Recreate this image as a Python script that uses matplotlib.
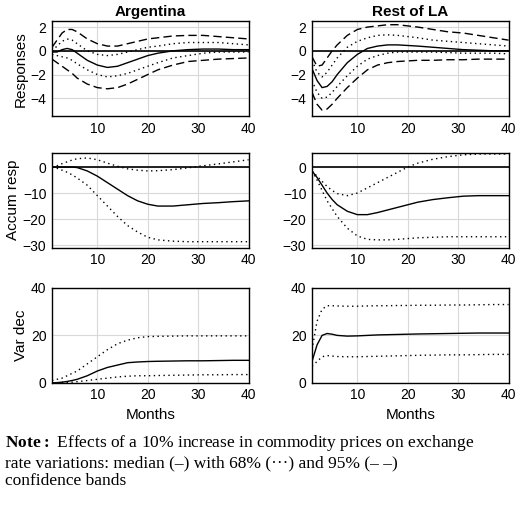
import numpy as np
import matplotlib.pyplot as plt

months = [1, 2, 3, 4, 5, 6, 8, 10, 12, 14, 16, 18, 20, 22, 25, 28, 31, 34, 37, 40]

# impulse responses
arg_med = [-0.1, -0.1, 0.1, 0.2, 0.1, -0.2, -0.8, -1.2, -1.4, -1.3, -1.0, -0.7, -0.4, -0.2, 0.0, 0.1, 0.15, 0.15, 0.1, 0.1]
arg_u68 = [0.0, 0.4, 0.8, 1.0, 0.9, 0.6, 0.0, -0.3, -0.4, -0.3, -0.1, 0.1, 0.3, 0.4, 0.6, 0.7, 0.7, 0.7, 0.6, 0.5]
arg_l68 = [-0.3, -0.4, -0.5, -0.6, -0.8, -1.1, -1.6, -2.0, -2.2, -2.1, -1.9, -1.6, -1.3, -1.0, -0.6, -0.4, -0.2, -0.1, -0.1, -0.1]
arg_u95 = [0.3, 0.9, 1.5, 1.8, 1.8, 1.6, 1.0, 0.6, 0.4, 0.4, 0.6, 0.8, 1.0, 1.1, 1.25, 1.3, 1.3, 1.2, 1.1, 1.0]
arg_l95 = [-0.7, -1.0, -1.3, -1.6, -1.9, -2.3, -2.8, -3.1, -3.2, -3.1, -2.8, -2.4, -2.0, -1.6, -1.2, -0.9, -0.8, -0.7, -0.65, -0.6]

rla_med = [-1.5, -2.5, -3.1, -3.0, -2.6, -2.0, -1.0, -0.3, 0.2, 0.4, 0.5, 0.5, 0.45, 0.4, 0.3, 0.2, 0.1, 0.05, 0.0, 0.0]
rla_u68 = [-0.8, -1.8, -2.2, -1.8, -1.2, -0.6, 0.3, 0.8, 1.1, 1.3, 1.35, 1.3, 1.2, 1.1, 0.9, 0.8, 0.7, 0.6, 0.5, 0.4]
rla_l68 = [-2.5, -3.5, -4.0, -3.9, -3.5, -3.0, -2.1, -1.3, -0.7, -0.4, -0.2, -0.1, -0.1, -0.1, -0.1, -0.15, -0.2, -0.2, -0.2, -0.25]
rla_u95 = [-0.5, -1.3, -1.2, -0.6, 0.0, 0.5, 1.3, 1.8, 2.0, 2.1, 2.2, 2.2, 2.1, 2.0, 1.8, 1.6, 1.5, 1.3, 1.1, 0.9]
rla_l95 = [-3.5, -4.5, -5.0, -4.9, -4.5, -4.0, -3.1, -2.3, -1.6, -1.2, -1.0, -0.9, -0.85, -0.8, -0.8, -0.75, -0.75, -0.7, -0.7, -0.7]

# accumulated responses
arg_acc = [0, 0, 0, 0, 0, -0.2, -1.5, -3.5, -6, -8.5, -11, -13, -14.3, -15, -15, -14.5, -14, -13.7, -13.3, -13]
arg_acc_u = [0, 0.5, 1.3, 2, 2.7, 3.2, 3.5, 2.8, 1.5, 0.3, -0.7, -1.2, -1.5, -1.4, -1.0, -0.3, 0.5, 1.2, 2.0, 2.8]
arg_acc_l = [0, -0.5, -1.2, -2, -3, -4.2, -7, -11, -15, -19, -22.5, -25, -27, -28, -28.5, -28.7, -28.7, -28.7, -28.7, -28.7]
rla_acc = [-1.5, -4, -7, -10, -12.5, -14.5, -17, -18.3, -18.3, -17.5, -16.5, -15.5, -14.5, -13.5, -12.5, -11.8, -11.2, -11, -11, -11]
rla_acc_u = [-1.5, -3.5, -5.5, -7.5, -9, -10.2, -11, -10, -8, -6, -4, -2, 0, 1.5, 3, 4, 4.7, 5, 5, 5]
rla_acc_l = [-1.5, -5, -9, -13, -16, -19, -23.5, -26.5, -27.8, -28, -28, -27.8, -27.5, -27.2, -27, -26.8, -26.8, -26.8, -26.8, -26.8]

# variance decomposition
arg_vd = [0, 0.1, 0.3, 0.6, 1, 1.5, 3, 5, 6.5, 7.5, 8.5, 8.8, 9, 9.1, 9.2, 9.3, 9.3, 9.4, 9.5, 9.5]
arg_vd_u = [1, 1.5, 2, 3, 4, 5, 8, 11, 14, 16.5, 18, 19, 19.5, 19.6, 19.7, 19.8, 19.8, 19.8, 19.8, 19.8]
arg_vd_l = [0, 0.1, 0.2, 0.25, 0.3, 0.5, 1, 1.5, 2, 2.5, 2.8, 3, 3, 3.1, 3.2, 3.3, 3.4, 3.4, 3.5, 3.5]
rla_vd = [9, 16, 20, 20.8, 20.5, 20, 19.7, 19.8, 20, 20.2, 20.3, 20.4, 20.5, 20.6, 20.7, 20.8, 20.9, 21, 21, 21]
rla_vd_u = [14, 26, 31, 32.5, 32.5, 32.4, 32.3, 32.3, 32.4, 32.5, 32.5, 32.6, 32.6, 32.7, 32.7, 32.8, 32.8, 32.9, 33, 33]
rla_vd_l = [7, 9, 11, 11.5, 11.3, 11.1, 11, 11, 11.1, 11.2, 11.3, 11.4, 11.5, 11.6, 11.7, 11.8, 11.8, 11.9, 12, 12]

plt.rcParams['font.family'] = ['Liberation Sans', 'DejaVu Sans']
plt.rcParams['mathtext.fontset'] = 'custom'
plt.rcParams['mathtext.rm'] = 'Liberation Serif'
plt.rcParams['mathtext.bf'] = 'Liberation Serif:bold'
fig = plt.figure(figsize=(5.2, 5.16), dpi=100)

lefts = [0.1, 0.6]
bottoms = [0.775, 0.52, 0.258]
w, h = 0.378, 0.184

panels = [
    [(arg_med, [arg_u68, arg_l68], [arg_u95, arg_l95]), (rla_med, [rla_u68, rla_l68], [rla_u95, rla_l95])],
    [(arg_acc, [arg_acc_u, arg_acc_l], []), (rla_acc, [rla_acc_u, rla_acc_l], [])],
    [(arg_vd, [arg_vd_u, arg_vd_l], []), (rla_vd, [rla_vd_u, rla_vd_l], [])],
]
ylims = [(-5.5, 2.5), (-31, 5.5), (0, 40)]
yticks = [[-4, -2, 0, 2], [-30, -20, -10, 0], [0, 20, 40]]
ylabels = ["Responses", "Accum resp", "Var dec"]
titles = ["Argentina", "Rest of LA"]

for r in range(3):
    for c in range(2):
        ax = fig.add_axes([lefts[c], bottoms[r], w, h])
        med, b68, b95 = panels[r][c]
        if r < 2:
            ax.axhline(0, color='black', lw=1.2)
        for b in b95:
            ax.plot(months, b, color='black', lw=1.0, ls=(0, (6, 3)))
        for b in b68:
            ax.plot(months, b, color='black', lw=1.0, ls=(0, (1, 2.5)))
        ax.plot(months, med, color='black', lw=1.0)
        ax.set_xlim(1, 40)
        ax.set_ylim(*ylims[r])
        ax.set_xticks([10, 20, 30, 40])
        ax.set_yticks(yticks[r])
        ax.set_yticklabels([str(t).replace('-', '\u2212') for t in yticks[r]])
        ax.grid(True, color='#d9d9d9', lw=0.8)
        ax.tick_params(labelsize=10, length=0, pad=4)
        for s in ax.spines.values():
            s.set_linewidth(1.0)
        if c == 0:
            ax.set_ylabel(ylabels[r], fontsize=11, labelpad=2)
        if r == 0:
            ax.set_title(titles[c], fontsize=11, fontweight='bold', pad=4)
        if r == 2:
            ax.set_xlabel("Months", fontsize=11)

fig.text(0.01, 0.16, r"$\bf{Note:}$ Effects of a 10% increase in commodity prices on exchange" "\n"
         "rate variations: median (\u2013) with 68% (\u00b7\u00b7\u00b7) and 95% (\u2013 \u2013)\n"
         "confidence bands", fontsize=12.5, family='Liberation Serif', va='top', linespacing=1.15)
fig.savefig("out.png", dpi=100)
